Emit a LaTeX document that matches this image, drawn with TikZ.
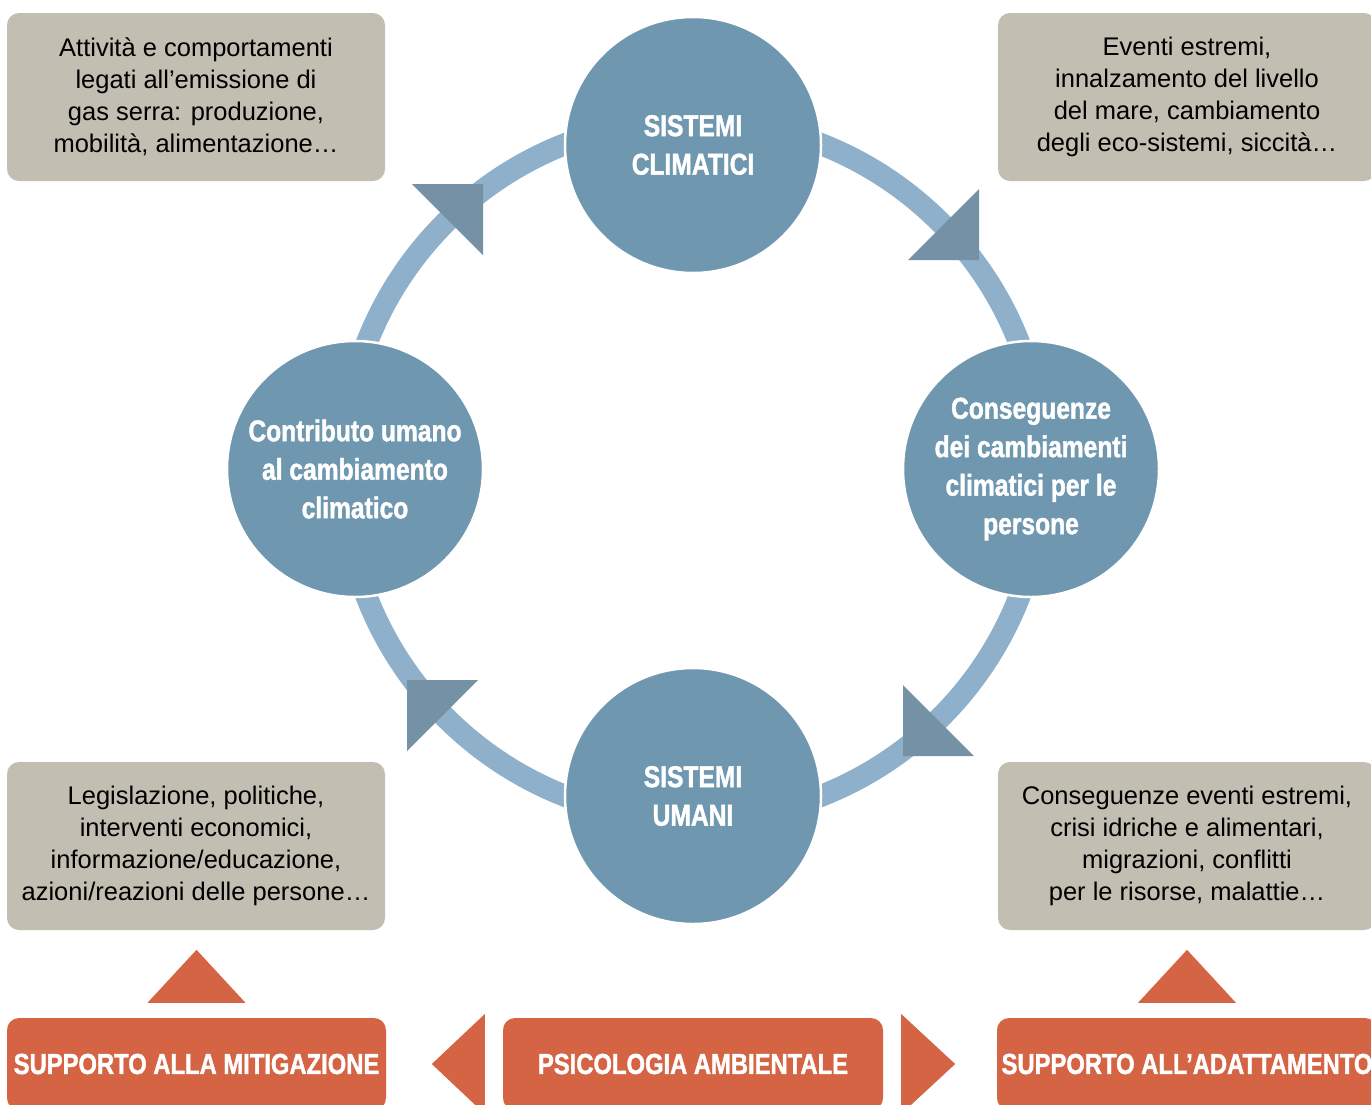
\documentclass[tikz,border=0pt]{standalone}
\usepackage{fontspec}
\setmainfont{Liberation Sans}
\newfontfamily\condfont{Liberation Sans}[FakeStretch=0.82,BoldFeatures={FakeBold=1.4}]
\usepackage{tikz}
\usetikzlibrary{positioning}
\definecolor{cycblue}{HTML}{6F97B0}
\definecolor{ringblue}{HTML}{8FB0CB}
\definecolor{headblue}{HTML}{7591A5}
\definecolor{infogray}{HTML}{C2BEB2}
\definecolor{actorange}{HTML}{D46443}

\begin{document}
\begin{tikzpicture}[
      x=1pt,y=-1pt,
      cyc/.style={circle,fill=cycblue,draw=white,line width=2.5pt,minimum size=256pt,inner sep=0pt,align=center,text=white,font=\condfont\bfseries\fontsize{30}{38.5}\selectfont},
      info/.style={rounded corners=12pt,fill=infogray,minimum width=378pt,minimum height=168pt,inner sep=0pt,align=center,font=\fontsize{25.5}{32}\selectfont},
      action/.style={rounded corners=12pt,fill=actorange,minimum width=380pt,minimum height=92pt,inner sep=0pt,align=center,text=white,font=\condfont\bfseries\fontsize{29}{36}\selectfont},
      ring/.style={draw=ringblue,line width=22pt},
      head/.style={fill=headblue},
      tip/.style={fill=actorange}
    ]
    \useasboundingbox (0,0) rectangle (1371,1104);
    \coordinate (hub) at (693,470);
    % cycle ring and its arrow heads
    \draw[ring] (hub) circle[radius=350];
    \foreach \a in {0,-90,-180,-270}
      \fill[head,rotate around={\a:(hub)}] (412,184) -- (483,184) -- (483,255) -- cycle;
    % the four stages
    \node[cyc] (clima) at (693,145) {SISTEMI\\CLIMATICI};
    \node[cyc] (conseg) at (1031,469) {Conseguenze\\dei cambiamenti\\climatici per le\\persone};
    \node[cyc] (umani) at (693,796) {SISTEMI\\UMANI};
    \node[cyc] (contrib) at (355,469) {Contributo umano\\al cambiamento\\climatico};
    % descriptions
    \node[info] (attivita) at (196,97) {Attività e comportamenti\\legati all’emissione di\\gas serra: produzione,\\mobilità, alimentazione…};
    \node[info] (eventi) at (1187,97) {Eventi estremi,\\innalzamento del livello\\del mare, cambiamento\\degli eco-sistemi, siccità…};
    \node[info] (legisl) at (196,846) {Legislazione, politiche,\\interventi economici,\\informazione/educazione,\\azioni/reazioni delle persone…};
    \node[info] (crisi) at (1187,846) {Conseguenze eventi estremi,\\crisi idriche e alimentari,\\migrazioni, conflitti\\per le risorse, malattie…};
    % psychology row
    \node[action,minimum width=379pt] (mitig) at (196.5,1064) {SUPPORTO ALLA MITIGAZIONE};
    \node[action] (psico) at (693,1064) {PSICOLOGIA AMBIENTALE};
    \node[action] (adatt) at (1187,1064) {SUPPORTO ALL’ADATTAMENTO};
    \fill[tip] ([yshift=68pt]mitig.north) -- ([xshift=-49pt,yshift=15pt]mitig.north) -- ([xshift=49pt,yshift=15pt]mitig.north) -- cycle;
    \fill[tip] ([yshift=68pt]adatt.north) -- ([xshift=-49pt,yshift=15pt]adatt.north) -- ([xshift=49pt,yshift=15pt]adatt.north) -- cycle;
    \fill[tip] ([xshift=-71pt]psico.west) -- ([xshift=-18pt,yshift=50pt]psico.west) -- ([xshift=-18pt,yshift=-50pt]psico.west) -- cycle;
    \fill[tip] ([xshift=72pt]psico.east) -- ([xshift=18pt,yshift=50pt]psico.east) -- ([xshift=18pt,yshift=-50pt]psico.east) -- cycle;
  \end{tikzpicture}
\end{document}
